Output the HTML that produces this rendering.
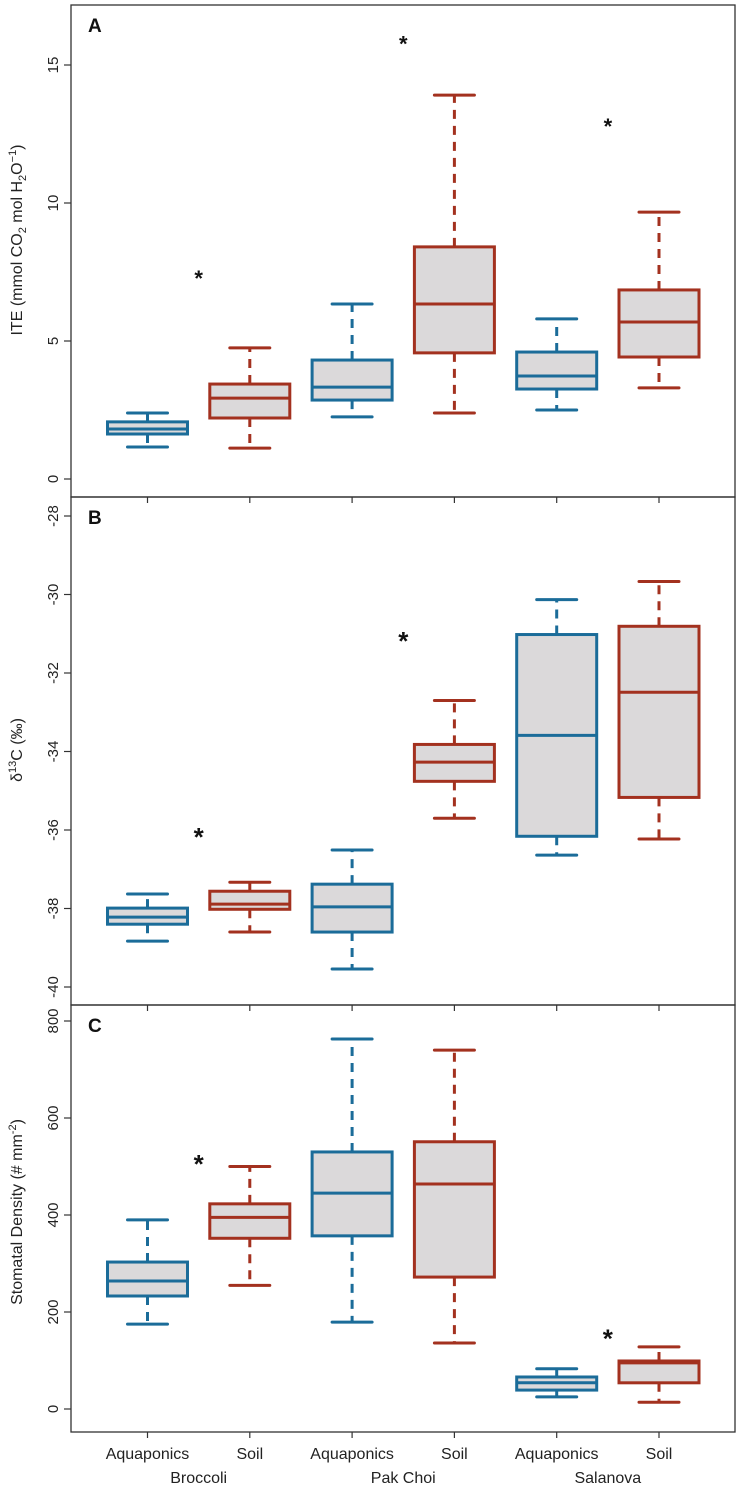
<!DOCTYPE html>
<html><head><meta charset="utf-8"><style>
body{margin:0;background:#fff}
svg{display:block;font-family:"Liberation Sans",Arial,sans-serif}
</style></head><body>
<svg id="chart" width="740" height="1490" viewBox="0 0 740 1490" xmlns="http://www.w3.org/2000/svg"></svg>
<script>
const categories = ["Aquaponics","Soil","Aquaponics","Soil","Aquaponics","Soil"];
const crops = ["Broccoli","Pak Choi","Salanova"];
// [lowerWhisker, q1, median, q3, upperWhisker]
const iteStats = [[1.16,1.63,1.81,2.07,2.39],[1.12,2.21,2.93,3.44,4.75],[2.25,2.86,3.33,4.31,6.34],[2.39,4.57,6.34,8.41,13.91],[2.50,3.26,3.73,4.60,5.80],[3.30,4.42,5.69,6.85,9.67]];
const d13cStats = [[-38.83,-38.40,-38.22,-37.99,-37.63],[-38.60,-38.02,-37.89,-37.56,-37.33],[-39.54,-38.60,-37.96,-37.38,-36.51],[-35.70,-34.76,-34.27,-33.82,-32.70],[-36.64,-36.16,-33.59,-31.02,-30.13],[-36.23,-35.17,-32.49,-30.81,-29.67]];
const sdStats = [[175,233,264,303,390],[255,352,395,423,500],[179,357,445,530,763],[136,272,464,551,740],[25,39,54,66,83],[14,54,95,99,128]];
const iteStars = [[0.5,7.5],[2.5,16.0],[4.5,13.0]];
const d13cStars = [[0.5,-36.0],[2.5,-31.0]];
const sdStars = [[0.5,520],[4.5,160]];
const iteTicks = [0,5,10,15];
const d13cTicks = [-40,-38,-36,-34,-32,-30,-28];
const sdTicks = [0,200,400,600,800];

const svg=document.getElementById('chart');
const NS='http://www.w3.org/2000/svg';
const colors=['#1b6c99','#a3311f'];
const L=71,R=735;
function xPos(i){return 147.5+i*102.3;}
function mk(tag,attrs,parent){const e=document.createElementNS(NS,tag);for(const k in attrs)e.setAttribute(k,attrs[k]);(parent||svg).appendChild(e);return e;}
function c2(i){return i%2?'soil':'aquaponics';}

function panel(cfg){
  const g=mk('g',{});
  
  
  const y=v=>cfg.y0+(v-cfg.v0)*(cfg.y1-cfg.y0)/(cfg.v1-cfg.v0);
  const fr=mk('rect',{x:L,y:cfg.top,width:R-L,height:cfg.bottom-cfg.top,fill:'none',stroke:'#333','stroke-width':1.3},g);
  
  
  cfg.ticks.forEach(t=>{
    const yy=y(t);
    mk('line',{x1:L-7,x2:L,y1:yy,y2:yy,stroke:'#333','stroke-width':1.2},g);
    const tx=mk('text',{x:0,y:0,transform:`translate(58,${yy}) rotate(-90)`,'text-anchor':'middle','font-size':15,fill:'#222'},g);
    tx.textContent=t;
    
    
  });
  categories.forEach((c,i)=>{
    mk('line',{x1:xPos(i),x2:xPos(i),y1:cfg.bottom,y2:cfg.bottom+6,stroke:'#333','stroke-width':1.2},g);
  });
  cfg.stats.forEach((s,i)=>{
    const col=colors[i%2], cx=xPos(i);
    const bg=mk('g',{},g);
    
    
    mk('line',{x1:cx,x2:cx,y1:y(s[3]),y2:y(s[4]),stroke:col,'stroke-width':3,'stroke-dasharray':'9,7'},bg);
    mk('line',{x1:cx,x2:cx,y1:y(s[1]),y2:y(s[0]),stroke:col,'stroke-width':3,'stroke-dasharray':'9,7'},bg);
    mk('line',{x1:cx-20,x2:cx+20,y1:y(s[4]),y2:y(s[4]),stroke:col,'stroke-width':3,'stroke-linecap':'round'},bg);
    mk('line',{x1:cx-20,x2:cx+20,y1:y(s[0]),y2:y(s[0]),stroke:col,'stroke-width':3,'stroke-linecap':'round'},bg);
    mk('rect',{x:cx-40,y:y(s[3]),width:80,height:y(s[1])-y(s[3]),fill:'#dbd9da',stroke:col,'stroke-width':3},bg);
    mk('line',{x1:cx-40,x2:cx+40,y1:y(s[2]),y2:y(s[2]),stroke:col,'stroke-width':3},bg);
  });
  cfg.stars.forEach(st=>{
    const t=mk('text',{x:147.5+st[0]*102.3,y:y(st[1])+cfg.starOff,'text-anchor':'middle','font-size':cfg.starSize,'font-weight':'bold',fill:'#111'},g);
    t.textContent='*';
    
    
  });
  const lt=mk('text',{x:88,y:cfg.top+27,'font-size':19,'font-weight':'bold',fill:'#111'},g);
  lt.textContent=cfg.letter;
  
  
  const tt=mk('text',{x:0,y:0,transform:`translate(22,${cfg.titleY}) rotate(-90)`,'text-anchor':'middle','font-size':16,fill:'#222'},g);
  tt.innerHTML=cfg.title;
  
  
}

panel({letter:'A',top:5,bottom:497,v0:0,y0:479,v1:15,y1:65,ticks:iteTicks,stats:iteStats,stars:iteStars,starOff:14,starSize:22,titleY:240,
 title:'ITE  (mmol CO<tspan font-size="11" dy="4">2</tspan><tspan dy="-4"> mol H</tspan><tspan font-size="11" dy="4">2</tspan><tspan dy="-4">O</tspan><tspan font-size="11" dy="-6">−1</tspan><tspan dy="6">)</tspan>'});
panel({letter:'B',top:497,bottom:1005,v0:-28,y0:516,v1:-40,y1:987,ticks:d13cTicks,stats:d13cStats,stars:d13cStars,starOff:16,starSize:26,titleY:750,
 title:'δ<tspan font-size="11" dy="-6">13</tspan><tspan dy="6">C (‰)</tspan>'});
panel({letter:'C',top:1005,bottom:1432,v0:0,y0:1409,v1:800,y1:1021,ticks:sdTicks,stats:sdStats,stars:sdStars,starOff:16,starSize:26,titleY:1212,
 title:'Stomatal Density  (# mm<tspan font-size="11" dy="-6">-2</tspan><tspan dy="6">)</tspan>'});

categories.forEach((c,i)=>{
  const t=mk('text',{x:xPos(i),y:1459,'text-anchor':'middle','font-size':16,fill:'#222'});
  t.textContent=c;
  
  
});
crops.forEach((c,i)=>{
  const t=mk('text',{x:(xPos(2*i)+xPos(2*i+1))/2,y:1483,'text-anchor':'middle','font-size':16,fill:'#222'});
  t.textContent=c;
  
  
});
</script>
</body></html>
